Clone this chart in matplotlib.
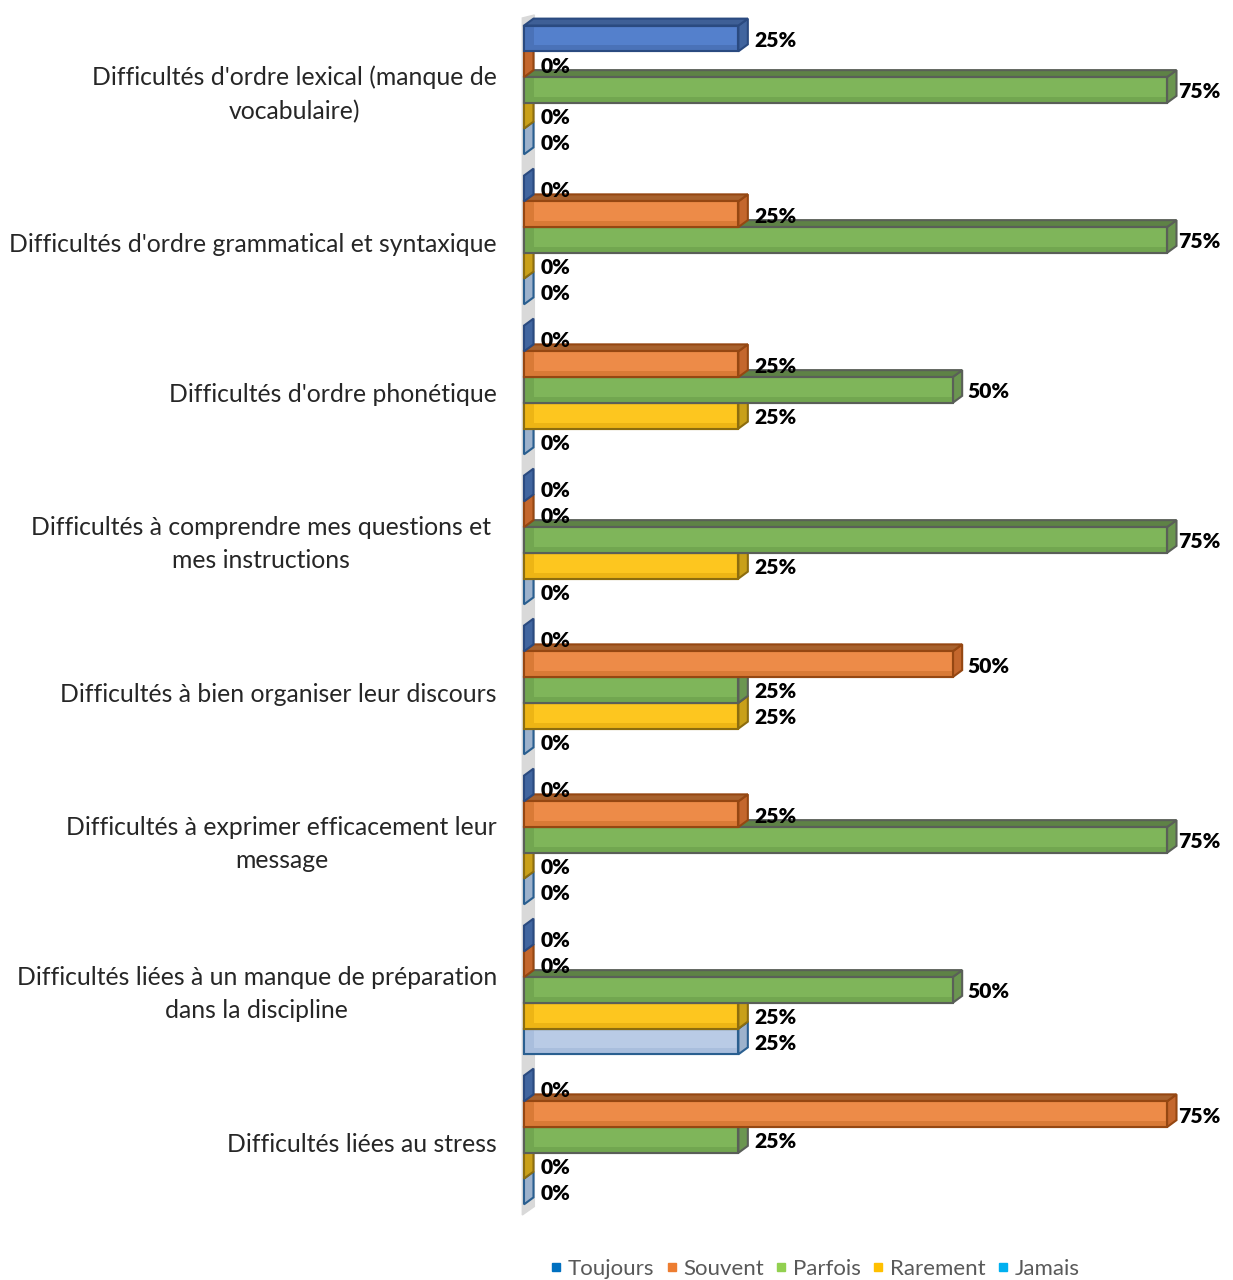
import matplotlib
matplotlib.use("Agg")
import matplotlib.pyplot as plt
from matplotlib.lines import Line2D

plt.rcParams["font.family"] = ["Lato", "DejaVu Sans"]

categories = [
    "Difficultés d'ordre lexical (manque de\nvocabulaire)",
    "Difficultés d'ordre grammatical et syntaxique",
    "Difficultés d'ordre phonétique",
    "Difficultés à comprendre mes questions et\nmes instructions",
    "Difficultés à bien organiser leur discours",
    "Difficultés à exprimer efficacement leur\nmessage",
    "Difficultés liées à un manque de préparation\ndans la discipline",
    "Difficultés liées au stress",
]

series_names = ["Toujours", "Souvent", "Parfois", "Rarement", "Jamais"]

toujours = [25, 0, 0, 0, 0, 0, 0, 0]
souvent = [0, 25, 25, 0, 50, 25, 0, 75]
parfois = [75, 75, 50, 75, 25, 75, 50, 25]
rarement = [0, 0, 25, 25, 25, 0, 25, 0]
jamais = [0, 0, 0, 0, 0, 0, 25, 0]

series_values = [toujours, souvent, parfois, rarement, jamais]

legend_colors = ["#0070C0", "#ED7D31", "#92D050", "#FFC000", "#00B0F0"]
face_colors = ["#5480CC", "#ED8B48", "#7FB55A", "#FDC61F", "#B9CBE6"]
band_colors = ["#4A72B8", "#D97A36", "#72A650", "#EDB515", "#A9BEDD"]
top_colors = ["#3E5F96", "#A8622E", "#5E8246", "#B5901C", "#8FA6C4"]
side_colors = ["#41659F", "#C4672D", "#6B9650", "#C9A019", "#9DB2CC"]
edge_colors = ["#2A4A80", "#954712", "#5A5F58", "#8C6D0F", "#2A5F90"]

W, H = 1233, 1280
fig = plt.figure(figsize=(W / 100, H / 100), dpi=100)
ax = fig.add_axes([524 / W, 1 - 1215 / H, (1167 - 524) / W, 1200 / H])
ax.set_xlim(0, 75)
ax.set_ylim(7.5, -0.5)
ax.axis("off")

bar_h = 25.75 / 150
dx = 9.5 / (643 / 75)
dy = 7 / 150
band_y = 6 / 150

# back wall
ax.fill(
    [-0.2, dx + 0.1, dx + 0.1, -0.2],
    [7.5, 7.5 - dy - 0.01, -0.5, -0.5 + 0.02],
    color="#D9D9D9",
    clip_on=False,
    zorder=1,
)

z = 2
for i in range(len(categories)):
    # lower bars first, the upper bar front covers their top face
    for j in reversed(range(len(series_names))):
        v = series_values[j][i]
        top = i + (j - 2.5) * bar_h
        bot = top + bar_h
        mid = top + bar_h / 2
        lw = 1.5

        # side face
        ax.fill(
            [v, v + dx, v + dx, v],
            [top, top - dy, bot - dy, bot],
            facecolor=side_colors[j],
            edgecolor=edge_colors[j],
            linewidth=lw,
            clip_on=False,
            zorder=z,
        )

        if v > 0:
            # top face
            ax.fill(
                [0, dx, v + dx, v],
                [top, top - dy, top - dy, top],
                facecolor=top_colors[j],
                edgecolor=edge_colors[j],
                linewidth=lw,
                clip_on=False,
                zorder=z,
            )
            ax.barh(
                mid,
                v,
                height=bar_h,
                color=face_colors[j],
                edgecolor=edge_colors[j],
                linewidth=lw,
                clip_on=False,
                zorder=z + 0.2,
            )
            # back edges seen through the box
            ax.barh(bot - band_y / 2, v, height=band_y, color=band_colors[j],
                    linewidth=0, zorder=z + 0.3, clip_on=False)
            ax.barh(mid, dx, height=bar_h, color=band_colors[j],
                    linewidth=0, zorder=z + 0.3, clip_on=False)
            ax.plot([0, v, v, 0, 0], [top, top, bot, bot, top],
                    color=edge_colors[j], linewidth=lw, zorder=z + 0.4,
                    clip_on=False)
        z += 1

        off = {0: 16.5, 25: 16, 50: 14.5, 75: 11}[v]
        ax.annotate(
            f"{v}%",
            (v, mid),
            xytext=(off * 0.72, -1.4),
            textcoords="offset points",
            ha="left",
            va="center",
            fontsize=15.2,
            fontweight="heavy",
            color="black",
            annotation_clip=False,
            zorder=100,
        )

for i, label in enumerate(categories):
    right = -27 if i != 3 else -33
    ax.annotate(
        label,
        (0, i),
        xytext=(right * 0.72, -3),
        textcoords="offset points",
        ha="right",
        va="center",
        multialignment="center",
        fontsize=17.8,
        linespacing=1.55,
        color="#262626",
        annotation_clip=False,
    )

handles = [
    Line2D([], [], linestyle="none", marker="s", markersize=6,
           color=legend_colors[j], label=series_names[j])
    for j in range(len(series_names))
]
fig.legend(
    handles=handles,
    loc="center",
    bbox_to_anchor=(815 / W, 1 - 1269 / H),
    ncol=5,
    frameon=False,
    fontsize=16,
    labelcolor="#595959",
    handlelength=0.5,
    handletextpad=0.26,
    columnspacing=0.55,
)

fig.savefig("out.png", dpi=100)
